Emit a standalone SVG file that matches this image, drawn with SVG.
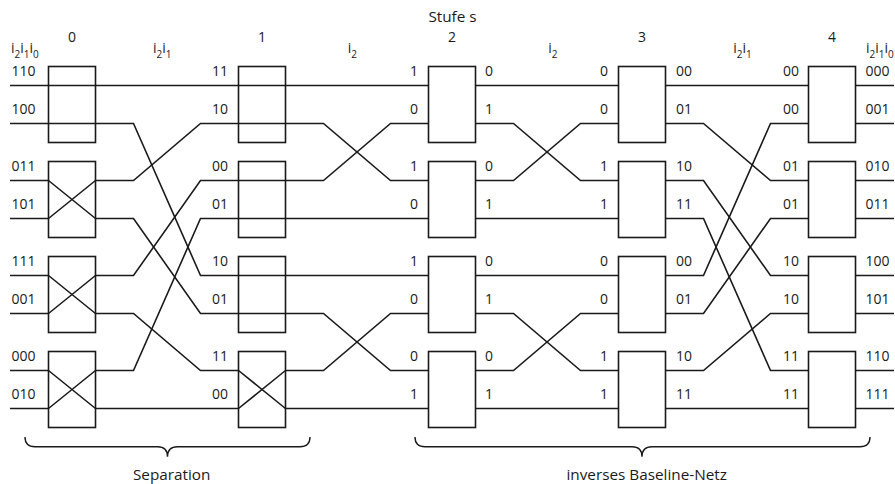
<svg xmlns="http://www.w3.org/2000/svg" width="895" height="484" viewBox="0 0 895 484">
  <style>
    .box { fill: #fff; stroke: #1a1a1a; stroke-width: 1.6; }
    .wire { fill: none; stroke: #1a1a1a; stroke-width: 1.6; stroke-linejoin: miter; }
    text { font-family: "Open Sans", "Liberation Sans", sans-serif; fill: #1a1a1a; }
    .lbl { font-size: 14px; }
    .end { text-anchor: end; }
    .mid { text-anchor: middle; }
    .word { font-size: 15.3px; }
    .num { font-size: 14px; }
    .sub { font-size: 10px; }
    .brace { fill: none; stroke: #1a1a1a; stroke-width: 1.4; }
  </style>

  <!-- stage numbers and title -->
  <g id="header">
    <text class="word mid" x="452.5" y="22">Stufe s</text>
    <text class="num mid" x="72" y="41.7">0</text>
    <text class="num mid" x="262" y="41.7">1</text>
    <text class="num mid" x="452" y="41.7">2</text>
    <text class="num mid" x="642" y="41.7">3</text>
    <text class="num mid" x="832" y="41.7">4</text>
    <text class="lbl" x="11" y="53.3">i<tspan class="sub" dy="5">2</tspan><tspan dy="-5">i</tspan><tspan class="sub" dy="5">1</tspan><tspan dy="-5">i</tspan><tspan class="sub" dy="5">0</tspan></text>
    <text class="lbl" x="153" y="53.3">i<tspan class="sub" dy="5">2</tspan><tspan dy="-5">i</tspan><tspan class="sub" dy="5">1</tspan></text>
    <text class="lbl" x="347.7" y="53.3">i<tspan class="sub" dy="5">2</tspan></text>
    <text class="lbl" x="548.3" y="53.3">i<tspan class="sub" dy="5">2</tspan></text>
    <text class="lbl" x="733.3" y="53.3">i<tspan class="sub" dy="5">2</tspan><tspan dy="-5">i</tspan><tspan class="sub" dy="5">1</tspan></text>
    <text class="lbl" x="866" y="53.3">i<tspan class="sub" dy="5">2</tspan><tspan dy="-5">i</tspan><tspan class="sub" dy="5">1</tspan><tspan dy="-5">i</tspan><tspan class="sub" dy="5">0</tspan></text>
  </g>

  <!-- wiring between stages -->
  <g id="connectors" class="wire">
    <!-- inputs into stage 0 -->
    <path d="M10,85.5H48.5 M10,123.5H48.5 M10,180.5H48.5 M10,218.5H48.5 M10,275.5H48.5 M10,313.5H48.5 M10,370.5H48.5 M10,408.5H48.5"/>
    <!-- stage 0 -> 1 -->
    <path d="M95.5,85.5H238.5"/>
    <path d="M95.5,123.5H133.5L200.5,275.5H238.5"/>
    <path d="M95.5,180.5H133.5L200.5,123.5H238.5"/>
    <path d="M95.5,218.5H133.5L200.5,313.5H238.5"/>
    <path d="M95.5,275.5H133.5L200.5,180.5H238.5"/>
    <path d="M95.5,313.5H133.5L200.5,370.5H238.5"/>
    <path d="M95.5,370.5H133.5L200.5,218.5H238.5"/>
    <path d="M95.5,408.5H238.5"/>
    <!-- stage 1 -> 2 -->
    <path d="M285.5,85.5H428.5"/>
    <path d="M285.5,123.5H323.5L390.5,180.5H428.5"/>
    <path d="M285.5,180.5H323.5L390.5,123.5H428.5"/>
    <path d="M285.5,218.5H428.5"/>
    <path d="M285.5,275.5H428.5"/>
    <path d="M285.5,313.5H323.5L390.5,370.5H428.5"/>
    <path d="M285.5,370.5H323.5L390.5,313.5H428.5"/>
    <path d="M285.5,408.5H428.5"/>
    <!-- stage 2 -> 3 -->
    <path d="M475.5,85.5H618.5"/>
    <path d="M475.5,123.5H513.5L580.5,180.5H618.5"/>
    <path d="M475.5,180.5H513.5L580.5,123.5H618.5"/>
    <path d="M475.5,218.5H618.5"/>
    <path d="M475.5,275.5H618.5"/>
    <path d="M475.5,313.5H513.5L580.5,370.5H618.5"/>
    <path d="M475.5,370.5H513.5L580.5,313.5H618.5"/>
    <path d="M475.5,408.5H618.5"/>
    <!-- stage 3 -> 4 -->
    <path d="M665.5,85.5H808.5"/>
    <path d="M665.5,123.5H703.5L770.5,180.5H808.5"/>
    <path d="M665.5,180.5H703.5L770.5,275.5H808.5"/>
    <path d="M665.5,218.5H703.5L770.5,370.5H808.5"/>
    <path d="M665.5,275.5H703.5L770.5,123.5H808.5"/>
    <path d="M665.5,313.5H703.5L770.5,218.5H808.5"/>
    <path d="M665.5,370.5H703.5L770.5,313.5H808.5"/>
    <path d="M665.5,408.5H808.5"/>
    <!-- outputs of stage 4 -->
    <path d="M855.5,85.5H894 M855.5,123.5H894 M855.5,180.5H894 M855.5,218.5H894 M855.5,275.5H894 M855.5,313.5H894 M855.5,370.5H894 M855.5,408.5H894"/>
  </g>

  <!-- stage 0 switches -->
  <g id="s0-0"><rect class="box" x="48.5" y="66.5" width="47" height="76"/><path class="wire" d="M48.5,85.5H95.5 M48.5,123.5H95.5"/></g>
  <g id="s0-1"><rect class="box" x="48.5" y="161.5" width="47" height="76"/><path class="wire" d="M48.5,180.5L95.5,218.5 M48.5,218.5L95.5,180.5"/></g>
  <g id="s0-2"><rect class="box" x="48.5" y="256.5" width="47" height="76"/><path class="wire" d="M48.5,275.5L95.5,313.5 M48.5,313.5L95.5,275.5"/></g>
  <g id="s0-3"><rect class="box" x="48.5" y="351.5" width="47" height="76"/><path class="wire" d="M48.5,370.5L95.5,408.5 M48.5,408.5L95.5,370.5"/></g>

  <!-- stage 1 switches -->
  <g id="s1-0"><rect class="box" x="238.5" y="66.5" width="47" height="76"/><path class="wire" d="M238.5,85.5H285.5 M238.5,123.5H285.5"/></g>
  <g id="s1-1"><rect class="box" x="238.5" y="161.5" width="47" height="76"/><path class="wire" d="M238.5,180.5H285.5 M238.5,218.5H285.5"/></g>
  <g id="s1-2"><rect class="box" x="238.5" y="256.5" width="47" height="76"/><path class="wire" d="M238.5,275.5H285.5 M238.5,313.5H285.5"/></g>
  <g id="s1-3"><rect class="box" x="238.5" y="351.5" width="47" height="76"/><path class="wire" d="M238.5,370.5L285.5,408.5 M238.5,408.5L285.5,370.5"/></g>

  <!-- stages 2-4: plain switch boxes -->
  <g id="s2-0"><rect class="box" x="428.5" y="66.5" width="47" height="76"/></g>
  <g id="s2-1"><rect class="box" x="428.5" y="161.5" width="47" height="76"/></g>
  <g id="s2-2"><rect class="box" x="428.5" y="256.5" width="47" height="76"/></g>
  <g id="s2-3"><rect class="box" x="428.5" y="351.5" width="47" height="76"/></g>
  <g id="s3-0"><rect class="box" x="618.5" y="66.5" width="47" height="76"/></g>
  <g id="s3-1"><rect class="box" x="618.5" y="161.5" width="47" height="76"/></g>
  <g id="s3-2"><rect class="box" x="618.5" y="256.5" width="47" height="76"/></g>
  <g id="s3-3"><rect class="box" x="618.5" y="351.5" width="47" height="76"/></g>
  <g id="s4-0"><rect class="box" x="808.5" y="66.5" width="47" height="76"/></g>
  <g id="s4-1"><rect class="box" x="808.5" y="161.5" width="47" height="76"/></g>
  <g id="s4-2"><rect class="box" x="808.5" y="256.5" width="47" height="76"/></g>
  <g id="s4-3"><rect class="box" x="808.5" y="351.5" width="47" height="76"/></g>

  <!-- port labels -->
  <g id="labels" class="lbl">
    <text x="11.5" y="76">110</text><text x="11.5" y="114">100</text>
    <text x="11.5" y="171">011</text><text x="11.5" y="209">101</text>
    <text x="11.5" y="266">111</text><text x="11.5" y="304">001</text>
    <text x="11.5" y="361">000</text><text x="11.5" y="399">010</text>

    <g class="end">
      <text x="228" y="76">11</text><text x="228" y="114">10</text>
      <text x="228" y="171">00</text><text x="228" y="209">01</text>
      <text x="228" y="266">10</text><text x="228" y="304">01</text>
      <text x="228" y="361">11</text><text x="228" y="399">00</text>

      <text x="418" y="76">1</text><text x="418" y="114">0</text>
      <text x="418" y="171">1</text><text x="418" y="209">0</text>
      <text x="418" y="266">1</text><text x="418" y="304">0</text>
      <text x="418" y="361">0</text><text x="418" y="399">1</text>

      <text x="608" y="76">0</text><text x="608" y="114">0</text>
      <text x="608" y="171">1</text><text x="608" y="209">1</text>
      <text x="608" y="266">0</text><text x="608" y="304">0</text>
      <text x="608" y="361">1</text><text x="608" y="399">1</text>

      <text x="799" y="76">00</text><text x="799" y="114">00</text>
      <text x="799" y="171">01</text><text x="799" y="209">01</text>
      <text x="799" y="266">10</text><text x="799" y="304">10</text>
      <text x="799" y="361">11</text><text x="799" y="399">11</text>
    </g>

    <text x="485" y="76">0</text><text x="485" y="114">1</text>
    <text x="485" y="171">0</text><text x="485" y="209">1</text>
    <text x="485" y="266">0</text><text x="485" y="304">1</text>
    <text x="485" y="361">0</text><text x="485" y="399">1</text>

    <text x="676" y="76">00</text><text x="676" y="114">01</text>
    <text x="676" y="171">10</text><text x="676" y="209">11</text>
    <text x="676" y="266">00</text><text x="676" y="304">01</text>
    <text x="676" y="361">10</text><text x="676" y="399">11</text>

    <text x="865.5" y="76">000</text><text x="865.5" y="114">001</text>
    <text x="865.5" y="171">010</text><text x="865.5" y="209">011</text>
    <text x="865.5" y="266">100</text><text x="865.5" y="304">101</text>
    <text x="865.5" y="361">110</text><text x="865.5" y="399">111</text>
  </g>

  <!-- grouping braces -->
  <g id="brace-separation">
    <path class="brace" d="M25,437Q25,446.7 35,446.7H157.5Q167.5,446.7 167.5,456.7Q167.5,446.7 177.5,446.7H300Q310,446.7 310,437"/>
    <text class="word mid" x="171.7" y="479.5">Separation</text>
  </g>
  <g id="brace-baseline">
    <path class="brace" d="M415,437Q415,446.7 425,446.7H632Q642,446.7 642,456.7Q642,446.7 652,446.7H860Q870,446.7 870,437"/>
    <text class="word mid" x="646.7" y="479.5">inverses Baseline-Netz</text>
  </g>
</svg>
